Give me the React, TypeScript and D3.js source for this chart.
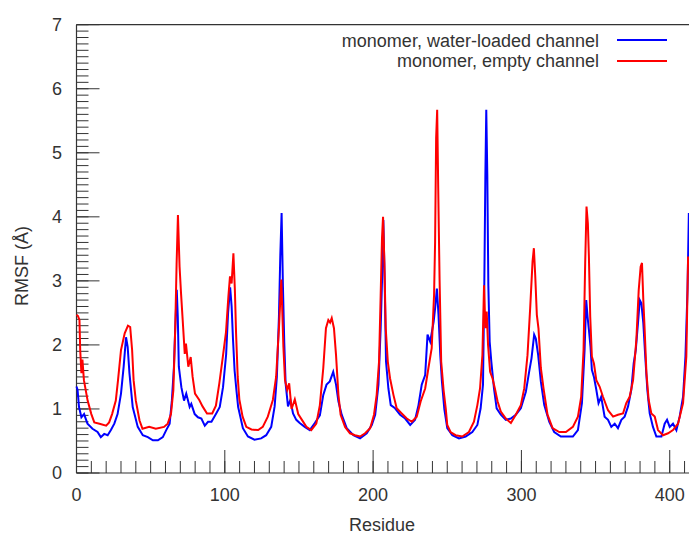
import React from 'react';
import * as d3 from 'd3';

const W = 689;
const H = 534;

const xTickLabels = [0, 100, 200, 300, 400];
const yTickLabels = [0, 1, 2, 3, 4, 5, 6, 7];
const xLabel = 'Residue';
const yLabel = 'RMSF (Å)';
const seriesNames = ['monomer, water-loaded channel', 'monomer, empty channel'];
const seriesColors = ['#0000ff', '#ff0000'];

// [residue, RMSF]
const waterLoaded: [number, number][] = [
  [0, 1.35], [0.7, 1.3], [1.7, 1.03], [3.3, 0.87], [5.1, 0.92], [7.4, 0.77], [10.8, 0.69], [14.2, 0.64],
  [16.4, 0.56], [18.7, 0.61], [21, 0.59], [23.2, 0.67], [25.5, 0.77], [27.7, 0.92], [30, 1.24], [31.8, 1.66],
  [33.4, 2.12], [34.5, 1.97], [35.7, 1.56], [37.9, 1.03], [41.3, 0.72], [44.7, 0.59], [48.1, 0.56], [51.5, 0.51],
  [54.9, 0.51], [58.2, 0.56], [60.5, 0.67], [62.8, 0.77], [64.3, 1.13], [65.7, 1.66], [66.6, 2.28], [67.6, 2.86],
  [68.3, 2.44], [69, 1.66], [70.7, 1.34], [72.5, 1.13], [74, 1.24], [76.3, 1.03], [77.4, 1.08], [79.7, 0.92],
  [81.9, 0.87], [84.2, 0.85], [86.5, 0.74], [88.7, 0.8], [91, 0.8], [94.2, 0.93], [96.6, 1.03], [98.8, 1.34],
  [100.9, 1.85], [102.2, 2.5], [103.6, 2.9], [104.6, 2.6], [105.5, 2.1], [106.6, 1.6], [107.8, 1.3], [109, 1.03],
  [112.2, 0.7], [115.6, 0.57], [120, 0.52], [124.5, 0.54], [127.9, 0.59], [131.3, 0.72], [133.6, 1.04], [135.1, 1.5],
  [136.5, 2.44], [137.4, 3.38], [138.3, 4.06], [139.2, 2.91], [140.1, 2.03], [141, 1.4], [142.6, 1.04], [144.2, 1.14],
  [146, 0.93], [148.2, 0.83], [150.5, 0.78], [153.9, 0.72], [157.3, 0.67], [160.7, 0.78], [164.1, 0.9], [166.4, 1.22],
  [168.6, 1.38], [170.8, 1.43], [173.1, 1.58], [175, 1.38], [176.6, 1.12], [178.8, 0.91], [182.2, 0.7], [186.7, 0.59],
  [191.2, 0.54], [195.7, 0.62], [199.1, 0.75], [201.4, 0.91], [203.6, 1.38], [205.1, 2.26], [206, 2.99], [206.9, 3.95],
  [207.8, 2.99], [208.7, 1.74], [210.3, 1.32], [211.9, 1.06], [214.8, 1.01], [218.2, 0.91], [221.6, 0.85], [225, 0.75],
  [228.3, 0.83], [230.6, 1.06], [232.8, 1.38], [235.1, 1.53], [236.7, 2.16], [238.5, 2.05], [240.8, 2.36], [241.8, 2.57],
  [243, 2.88], [244.1, 2.47], [245.3, 1.84], [246.4, 1.43], [248, 1.0], [250, 0.7], [253.4, 0.59], [257.9, 0.54],
  [262.4, 0.57], [266.9, 0.64], [270.3, 0.75], [272.5, 1.01], [274.1, 1.38], [275, 2.99], [275.7, 4.66], [276.3, 5.67],
  [277, 4.66], [277.7, 2.93], [278.6, 2.05], [279.7, 1.74], [281.5, 1.32], [283.3, 1.01], [286.1, 0.91], [289.5, 0.83],
  [292.9, 0.85], [296.2, 0.91], [299.6, 1.01], [303, 1.27], [305.2, 1.58], [306.8, 1.79], [308.6, 2.16], [309.7, 2.1],
  [311.3, 1.84], [313.1, 1.43], [315.4, 1.06], [318.8, 0.8], [322.1, 0.64], [326.6, 0.57], [331.1, 0.57], [334.7, 0.57],
  [338.1, 0.67], [340.8, 1.09], [342.6, 1.92], [343.7, 2.7], [344.6, 2.44], [345.5, 2.24], [346.6, 1.97], [347.5, 1.61],
  [348.9, 1.5], [350.5, 1.3], [352, 1.09], [353.8, 1.19], [356.1, 0.88], [358.4, 0.83], [360.6, 0.72], [362.9, 0.77],
  [365.1, 0.7], [367.4, 0.83], [369.6, 0.88], [371.9, 1.04], [374.1, 1.3], [375.7, 1.71], [377.1, 1.92], [378.6, 2.34],
  [379.8, 2.7], [380.9, 2.65], [382.2, 2.34], [383.5, 1.82], [384.9, 1.3], [386.5, 0.93], [388.7, 0.72], [391, 0.57],
  [394.4, 0.57], [396.6, 0.77], [398.2, 0.83], [400, 0.72], [402.2, 0.77], [404.5, 0.67], [406.7, 0.88], [409, 1.19],
  [410.6, 1.82], [412, 2.86], [412.9, 4.06],
];

const emptyChannel: [number, number][] = [
  [0, 2.47], [1, 2.45], [2, 2.39], [2.5, 1.92], [3.3, 1.56], [4, 1.77], [5, 1.45], [7.5, 1.13], [10, 0.92],
  [12, 0.79], [15.5, 0.77], [20, 0.74], [22, 0.79], [24, 0.92], [26.5, 1.13], [28, 1.45], [30, 1.92], [32.5, 2.18],
  [34.7, 2.3], [36.2, 2.28], [37.5, 1.92], [38.5, 1.45], [40, 1.13], [42.5, 0.82], [44.5, 0.69], [49, 0.72],
  [53.5, 0.69], [59, 0.72], [61.5, 0.77], [63.7, 0.92], [65.3, 1.29], [66.6, 2.28], [67.5, 3.27], [68.4, 4.03],
  [69.5, 3.22], [70.5, 2.8], [71.6, 2.39], [73, 1.86], [73.8, 2.02], [75.4, 1.66], [77, 1.81], [78.3, 1.5],
  [79.9, 1.24], [82.8, 1.14], [85, 1.04], [88, 0.93], [91.5, 0.93], [94, 1.05], [96.3, 1.4], [98.6, 1.8],
  [100.8, 2.2], [102.4, 2.75], [103.5, 3.07], [104.6, 2.96], [105.8, 3.43], [106.8, 2.85], [107.6, 2.18], [108.7, 1.5],
  [109.8, 1.15], [112, 0.88], [114.5, 0.72], [118, 0.68], [122.5, 0.67], [125.6, 0.72], [129, 0.88], [132.4, 1.14],
  [134.6, 1.5], [136.6, 2.3], [137.6, 2.8], [138.1, 3.02], [138.8, 2.5], [139.5, 1.97], [140.6, 1.45], [142.1, 1.3],
  [143.4, 1.4], [145, 1.0], [147.2, 1.15], [149.5, 0.92], [152, 0.83], [155, 0.72], [158.3, 0.67], [161.7, 0.77],
  [164.1, 1.06], [166.4, 1.64], [168.2, 2.26], [169.8, 2.39], [171, 2.35], [172.1, 2.42], [173.6, 2.26], [175, 1.84],
  [176.6, 1.22], [178.1, 0.91], [181.1, 0.72], [184.4, 0.62], [187.8, 0.59], [191.2, 0.57], [194.6, 0.62], [198, 0.7],
  [200.6, 0.91], [202.4, 1.22], [204, 1.74], [205.1, 2.78], [206, 3.67], [206.7, 4.0], [207.6, 3.3], [208.5, 2.26],
  [209.9, 1.74], [211.4, 1.48], [213.7, 1.22], [215.9, 1.01], [219.3, 0.93], [222.7, 0.85], [226.1, 0.8], [229.4, 0.88],
  [232.1, 1.12], [235.1, 1.32], [237.3, 1.64], [239.5, 1.95], [241.1, 2.78], [241.8, 3.61], [242.5, 5.23], [243.2, 5.67],
  [243.9, 4.45], [244.8, 3.04], [245.9, 1.74], [247.5, 1.3], [249, 1.0], [250, 0.75], [252.2, 0.64], [255.6, 0.59],
  [260.1, 0.57], [264.6, 0.64], [268, 0.8], [270.3, 1.06], [272.1, 1.32], [273.7, 1.84], [274.8, 2.93], [275.7, 2.26],
  [276.6, 2.52], [277.5, 2.0], [278.9, 1.58], [280.5, 1.48], [282.1, 1.32], [283.9, 1.12], [286.1, 0.96], [289.5, 0.85],
  [292.9, 0.78], [296.2, 0.91], [299.6, 1.06], [301.9, 1.32], [304.1, 1.84], [305.9, 2.57], [307.5, 3.3], [308.4, 3.51],
  [309.3, 3.09], [310.4, 2.47], [311.5, 2.26], [313.1, 1.64], [314.9, 1.32], [317.6, 0.91], [321, 0.7], [325.5, 0.64],
  [330, 0.64], [334.7, 0.72], [338.1, 0.88], [340.3, 1.19], [341.9, 1.92], [343, 3.28], [343.9, 4.16], [344.8, 3.9],
  [345.5, 3.38], [346.4, 2.44], [347.5, 1.82], [348.9, 1.71], [350.5, 1.45], [352.7, 1.35], [355, 1.19], [358.4, 0.98],
  [361.8, 0.88], [365.1, 0.91], [368.5, 0.93], [370.7, 1.09], [373, 1.19], [375.3, 1.45], [377.5, 2.08], [379.1, 2.86],
  [380.4, 3.22], [381.3, 3.28], [382.2, 2.7], [383.1, 2.24], [384.3, 1.56], [385.8, 1.14], [387.6, 0.93], [389.9, 0.88],
  [392.1, 0.67], [395.5, 0.59], [398.9, 0.62], [402.2, 0.67], [405.6, 0.77], [409, 1.09], [411.2, 1.82], [412.4, 3.38],
];

const FONT = '"Liberation Sans", Arial, Helvetica, sans-serif';
const AXIS = '#333333';

export default function App() {
  const x = d3.scaleLinear().domain([0, 413]).range([76.5, 689]);
  const y = d3.scaleLinear().domain([0, 7]).range([473, 24.7]);
  const line = d3
    .line<[number, number]>()
    .x((d) => x(d[0]))
    .y((d) => y(d[1]));

  const xMinor = d3.range(0, 414, 10);
  const yMinor = d3.range(0, 71).map((i) => i / 10);
  const series = [waterLoaded, emptyChannel];

  return (
    <svg
      width={W}
      height={H}
      style={{ position: 'absolute', left: 0, top: 0, background: '#fff' }}
      fontFamily={FONT}
    >
      <rect x={0} y={0} width={W} height={H} fill="#fff" />
      {/* minor ticks */}
      {xMinor.map((v) => (
        <line key={'xm' + v} x1={x(v)} x2={x(v)} y1={y(0)} y2={y(0) - 12} stroke={AXIS} strokeWidth={1} />
      ))}
      {xTickLabels.map((v) => (
        <line key={'xM' + v} x1={x(v)} x2={x(v)} y1={y(0)} y2={y(0) - 23} stroke={AXIS} strokeWidth={1} />
      ))}
      {yMinor.map((v) => (
        <line key={'ym' + v} x1={x(0)} x2={x(0) + 12} y1={y(v)} y2={y(v)} stroke={AXIS} strokeWidth={1} />
      ))}
      {yTickLabels.map((v) => (
        <line key={'yM' + v} x1={x(0)} x2={x(0) + 23} y1={y(v)} y2={y(v)} stroke={AXIS} strokeWidth={1} />
      ))}
      {/* frame */}
      <line x1={x(0)} x2={W} y1={y(7)} y2={y(7)} stroke={AXIS} strokeWidth={1.2} />
      <line x1={x(0)} x2={W} y1={y(0)} y2={y(0)} stroke={AXIS} strokeWidth={1.2} />
      <line x1={x(0)} x2={x(0)} y1={y(0)} y2={y(7)} stroke={AXIS} strokeWidth={1.2} />

      {/* data */}
      {series.map((s, i) => (
        <path key={'s' + i} d={line(s) || ''} fill="none" stroke={seriesColors[i]} strokeWidth={2} strokeLinejoin="miter" />
      ))}

      {/* tick labels */}
      {xTickLabels.map((v) => (
        <text key={'xl' + v} x={x(v)} y={501} textAnchor="middle" fontSize={18} fill={AXIS}>
          {v}
        </text>
      ))}
      {yTickLabels.map((v) => (
        <text key={'yl' + v} x={62} y={y(v)} dy="0.35em" textAnchor="end" fontSize={18} fill={AXIS}>
          {v}
        </text>
      ))}
      <text x={382} y={531} textAnchor="middle" fontSize={18} fill={AXIS}>
        {xLabel}
      </text>
      <text
        transform={`translate(28,${266}) rotate(-90)`}
        textAnchor="middle"
        fontSize={18}
        fill={AXIS}
      >
        {yLabel}
      </text>

      {/* legend */}
      {seriesNames.map((name, i) => (
        <g key={'lg' + i}>
          <text x={599} y={46.5 + i * 20.8} textAnchor="end" fontSize={18} fill={AXIS}>
            {name}
          </text>
          <line x1={617} x2={667} y1={40 + i * 21} y2={40 + i * 21} stroke={seriesColors[i]} strokeWidth={2} />
        </g>
      ))}
    </svg>
  );
}
